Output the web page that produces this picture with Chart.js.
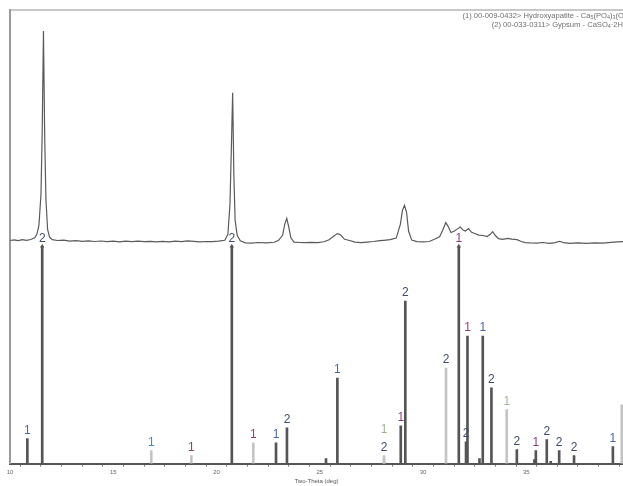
<!DOCTYPE html>
<html>
<head>
<meta charset="utf-8">
<title>XRD pattern</title>
<script src="https://cdn.jsdelivr.net/npm/chart.js@4"></script>
<style>
  body { margin: 0; background: #fff; overflow: hidden; }
  #wrap { position: relative; width: 623px; height: 486px; overflow: hidden; }
  #refs {
    position: absolute; top: 12px; right: -9px;
    font: 7.6px "Liberation Sans", Arial, sans-serif; color: #707070;
    text-align: right; line-height: 7px; white-space: nowrap;
  }
  #refs sub { font-size: 5.4px; vertical-align: -1px; }
</style>
</head>
<body>
<div id="wrap">
  <canvas id="xrd" width="627" height="486"></canvas>
  <div id="refs">(1) 00-009-0432&gt; Hydroxyapatite - Ca<sub>5</sub>(PO<sub>4</sub>)<sub>3</sub>(OH)<br>(2) 00-033-0311&gt; Gypsum - CaSO<sub>4</sub>·2H<sub>2</sub>O</div>
</div>
<script>
// Measured scan (2-theta in degrees, counts)
const scanAngle = [
  10.0, 10.2, 10.4, 10.6, 10.8, 11.0, 11.2, 11.3, 11.4, 11.5, 11.56, 11.62, 11.68, 11.74, 11.82, 11.92, 12.05,
  12.3, 12.6, 12.9, 13.2, 13.5, 13.8, 14.1, 14.4, 14.7, 15.0, 15.3, 15.6, 15.9, 16.2, 16.5, 16.8, 17.1,
  17.4, 17.7, 18.0, 18.3, 18.6, 18.9, 19.2, 19.5, 19.8, 20.1, 20.4, 20.55, 20.65, 20.72, 20.78, 20.84,
  20.9, 21.0, 21.15, 21.4, 21.7, 22.0, 22.4, 22.8, 23.0, 23.2, 23.3, 23.4, 23.5, 23.6, 23.75, 24.0,
  24.3, 24.6, 24.9, 25.2, 25.45, 25.65, 25.85, 26.0, 26.2, 26.4, 26.7, 27.0, 27.3, 27.6, 27.9, 28.1,
  28.4, 28.7, 28.9, 29.0, 29.1, 29.2, 29.3, 29.45, 29.7, 30.0, 30.3, 30.55, 30.8, 30.95, 31.1, 31.2,
  31.35, 31.5, 31.65, 31.8, 31.95, 32.05, 32.2, 32.35, 32.5, 32.7, 32.9, 33.1, 33.25, 33.37, 33.5, 33.65,
  33.85, 34.1, 34.3, 34.55, 34.75, 34.95, 35.2, 35.5, 35.8, 36.1, 36.4, 36.6, 36.8, 37.1, 37.5, 37.9,
  38.3, 38.7, 39.1, 39.4, 39.68
];
const scanCounts = [
  58, 64, 57, 66, 60, 68, 85, 120, 210, 520, 1150, 2160, 1100, 470, 170, 90, 66,
  58, 62, 52, 57, 50, 55, 48, 53, 47, 51, 45, 52, 47, 51, 46, 50, 44,
  49, 45, 52, 47, 54, 50, 44, 48, 46, 52, 60, 120, 420, 1000, 1540, 700,
  260, 110, 55, 35, 32, 38, 34, 40, 60, 110, 220, 280, 190, 85, 42, 38,
  36, 40, 37, 45, 65, 97, 127, 115, 70, 60, 42, 37, 42, 48, 56, 60,
  66, 82, 220, 360, 410, 340, 150, 62, 46, 44, 48, 70, 95, 160, 237, 205,
  138, 150, 172, 193, 160, 153, 177, 140, 128, 112, 108, 97, 120, 147, 108, 77,
  70, 80, 72, 67, 48, 37, 34, 32, 38, 30, 36, 50, 36, 30, 34, 29,
  35, 31, 40, 44, 47
];

// Reference lines, relative intensity in %
const hapAngles    = [10.84, 16.84, 18.78, 21.78, 22.88, 25.85, 28.11, 28.92, 31.73, 32.15, 32.89, 34.05, 35.46, 39.19];
const hapIntensity = [11.5, 6, 3.7, 9.6, 9.6, 39.4, 2, 17.4, 100, 58.7, 58.7, 24.8, 6, 7.8];

const gypAngles    = [11.56, 20.74, 23.41, 28.11, 29.14, 31.11, 32.08, 33.31, 34.54, 35.99, 36.59, 37.31];
const gypIntensity = [100, 100, 16.5, 3.7, 74.8, 44, 10, 34.9, 6.4, 11, 6, 3.7];

// small unlabelled lines
const minorAngles    = [25.30, 32.73, 35.39, 36.18, 39.62];
const minorIntensity = [2.3, 2.3, 1.8, 1, 27];

// lines drawn pale in the original
const paleLines = [16.84, 18.78, 21.78, 28.11, 31.11, 34.05, 39.62];
const magentaLabels = [18.78, 21.78, 28.92, 31.73, 32.15, 35.46];

function toPoints(xs, ys) {
    return xs.map((x, i) => ({ x: x, y: ys[i] }));
}

function stickColor(ctx) {
    const raw = ctx.raw;
    if (raw && paleLines.includes(raw.x)) return '#c4c4c4';
    return '#555555';
}

function labelColor(angle, phase) {
    if (phase === '2') return '#3e4a68';
    if (angle === 28.11 || angle === 34.05) return '#9fb592';
    if (angle === 16.84) return '#3f8db5';
    if (magentaLabels.includes(angle)) return '#8a3f7a';
    return '#4a66a8';
}

// Put the phase number above each line, pushing up any label that would overlap
const stickLabels = {
    id: 'stickLabels',
    afterDatasetsDraw(chart) {
        const ctx = chart.ctx;
        const placed = [];
        ctx.save();
        ctx.font = '12px "Liberation Sans", Arial, sans-serif';
        ctx.textAlign = 'center';
        ctx.textBaseline = 'bottom';
        chart.data.datasets.forEach((ds, i) => {
            if (!ds.phaseLabel) return;
            chart.getDatasetMeta(i).data.forEach((bar, j) => {
                let y = bar.y - 2;
                while (placed.some(p => Math.abs(p.x - bar.x) < 6 && Math.abs(p.y - y) < 10)) {
                    y -= 11;
                }
                placed.push({ x: bar.x, y: y });
                ctx.fillStyle = labelColor(ds.data[j].x, ds.phaseLabel);
                ctx.fillText(ds.phaseLabel, bar.x, y);
            });
        });
        ctx.restore();
    }
};

const fullLines = toPoints(gypAngles, gypIntensity).concat(toPoints(hapAngles, hapIntensity))
    .filter(p => p.y === 100);

const ctxXrd = document.getElementById('xrd').getContext('2d');

new Chart(ctxXrd, {
    type: 'line',
    data: {
        datasets: [
            {
                type: 'line',
                label: 'Scan',
                data: toPoints(scanAngle, scanCounts),
                yAxisID: 'yScan',
                borderColor: '#5a5a5a',
                borderWidth: 1.2,
                pointRadius: 0,
                tension: 0
            },
            {
                type: 'bar',
                label: 'Gypsum',
                phaseLabel: '2',
                data: toPoints(gypAngles, gypIntensity),
                yAxisID: 'y',
                backgroundColor: stickColor,
                barThickness: 2,
                grouped: false
            },
            {
                type: 'bar',
                label: 'Hydroxyapatite',
                phaseLabel: '1',
                data: toPoints(hapAngles, hapIntensity),
                yAxisID: 'y',
                backgroundColor: stickColor,
                barThickness: 2,
                grouped: false
            },
            {
                type: 'bar',
                label: 'minor',
                data: toPoints(minorAngles, minorIntensity),
                yAxisID: 'y',
                backgroundColor: stickColor,
                barThickness: 2,
                grouped: false
            },
            {
                type: 'scatter',
                label: 'arrows',
                data: fullLines,
                yAxisID: 'y',
                pointStyle: 'triangle',
                pointRadius: 2.5,
                backgroundColor: '#555555',
                borderWidth: 0
            }
        ]
    },
    options: {
        responsive: false,
        animation: false,
        layout: { padding: { left: 10, top: 10, right: 0, bottom: 1 } },
        plugins: {
            legend: { display: false },
            tooltip: { enabled: false }
        },
        scales: {
            x: {
                type: 'linear',
                position: 'bottom',
                min: 10,
                max: 39.68,
                offset: false,
                border: { color: '#555555', width: 2 },
                grid: { display: true, drawOnChartArea: false, drawTicks: true, tickLength: 3, color: '#777777' },
                ticks: {
                    stepSize: 1,
                    autoSkip: false,
                    maxRotation: 0,
                    includeBounds: false,
                    padding: 2,
                    color: '#666666',
                    font: { size: 6, family: 'Liberation Sans' },
                    callback: v => (v % 5 === 0 ? v : '')
                },
                title: {
                    display: true,
                    text: 'Two-Theta (deg)',
                    color: '#555555',
                    padding: 0,
                    font: { size: 6, family: 'Liberation Sans' }
                }
            },
            xTop: {
                type: 'linear',
                position: 'top',
                min: 10,
                max: 39.68,
                ticks: { display: false },
                grid: { display: false, drawTicks: false },
                border: { color: '#c8c8c8', width: 2 }
            },
            y: {
                type: 'linear',
                position: 'left',
                min: 0,
                max: 208.7,
                ticks: { display: false },
                grid: { display: false, drawTicks: false },
                border: { color: '#9a9a9a', width: 2 }
            },
            yScan: {
                type: 'linear',
                display: false,
                min: -2180,
                max: 2370
            }
        }
    },
    plugins: [stickLabels]
});
</script>
</body>
</html>
